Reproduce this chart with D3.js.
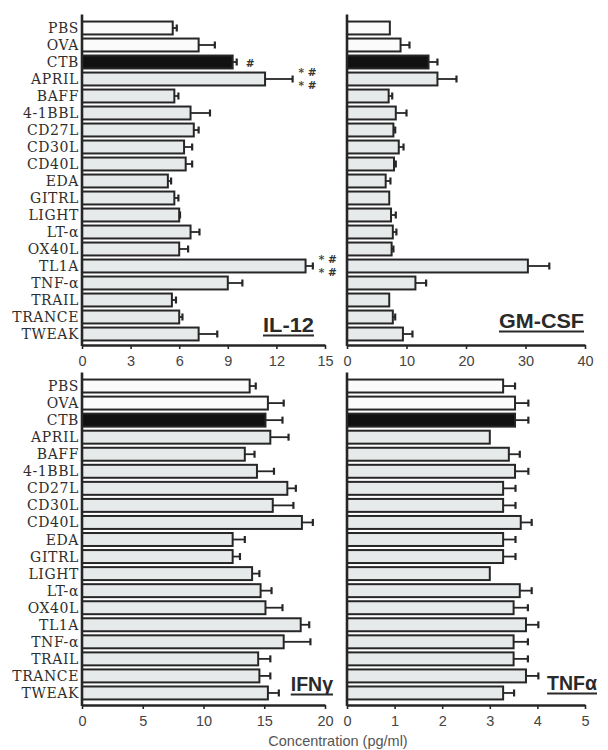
<!DOCTYPE html>
<html>
<head>
<meta charset="utf-8">
<script src="https://cdn.jsdelivr.net/npm/d3@7/dist/d3.min.js"></script>
<style>
  html, body { margin: 0; padding: 0; background: #fff; }
  svg { display: block; }
</style>
</head>
<body>
<svg id="chart" width="608" height="750"></svg>
<script>
// Stimuli (rows, top to bottom)
const categories = ["PBS", "OVA", "CTB", "APRIL", "BAFF", "4-1BBL", "CD27L", "CD30L", "CD40L",
  "EDA", "GITRL", "LIGHT", "LT-\u03b1", "OX40L", "TL1A", "TNF-\u03b1", "TRAIL", "TRANCE", "TWEAK"];

// IL-12 (pg/ml) mean and SEM
const il12Mean = [5.6, 7.2, 9.3, 11.3, 5.7, 6.7, 6.9, 6.3, 6.4, 5.3, 5.7, 6.0, 6.7, 6.0, 13.8, 9.0, 5.55, 6.0, 7.2];
const il12Err  = [0.25, 1.0, 0.25, 1.7, 0.25, 1.2, 0.3, 0.5, 0.4, 0.2, 0.25, 0.05, 0.55, 0.55, 0.45, 0.9, 0.25, 0.2, 1.15];
// significance marks for IL-12 (one entry per line)
const il12Marks = [[], [], ["#"], ["* #", "* #"], [], [], [], [], [], [], [], [], [], [], ["* #", "* #"], [], [], [], []];

// GM-CSF (pg/ml)
const gmcsfMean = [7.2, 9.0, 13.7, 15.2, 7.0, 8.2, 7.8, 8.7, 7.9, 6.5, 7.1, 7.4, 7.7, 7.5, 30.4, 11.5, 7.1, 7.7, 9.4];
const gmcsfErr  = [0, 1.5, 1.5, 3.2, 0.6, 1.8, 0.3, 0.8, 0.3, 0.8, 0, 0.8, 0.6, 0.3, 3.6, 1.8, 0, 0.4, 1.6];

// IFN-gamma (pg/ml)
const ifngMean = [13.8, 15.3, 15.1, 15.5, 13.4, 14.4, 16.9, 15.7, 18.1, 12.4, 12.4, 14.0, 14.7, 15.1, 18.0, 16.6, 14.5, 14.6, 15.3];
const ifngErr  = [0.5, 1.3, 1.4, 1.5, 0.8, 1.4, 0.7, 1.7, 0.9, 1.0, 0.6, 0.6, 0.9, 1.4, 0.7, 2.2, 1.0, 0.9, 0.9];

// TNF-alpha (pg/ml)
const tnfaMean = [3.28, 3.53, 3.53, 3.0, 3.4, 3.53, 3.28, 3.28, 3.65, 3.28, 3.28, 3.0, 3.63, 3.5, 3.76, 3.5, 3.5, 3.76, 3.28];
const tnfaErr  = [0.25, 0.28, 0.28, 0, 0.23, 0.28, 0.26, 0.26, 0.23, 0.26, 0.26, 0, 0.25, 0.3, 0.26, 0.3, 0.3, 0.26, 0.23];

// Axis ticks per panel
const il12Ticks  = [0, 3, 6, 9, 12, 15];
const gmcsfTicks = [0, 10, 20, 30, 40];
const ifngTicks  = [0, 5, 10, 15, 20];
const tnfaTicks  = [0, 1, 2, 3, 4, 5];

const panelTitles = ["IL-12", "GM-CSF", "IFN\u03b3", "TNF\u03b1"];
const axisTitle = "Concentration (pg/ml)";

const svg = d3.select("#chart");
const ink = "#262626";
const fillFor = i => categories[i] === "CTB" ? "#111" : (i < 2 ? "#fbfbfb" : "#e7eaeb");

function panel(opt) {
  const g = svg.append("g");
  const x = d3.scaleLinear().domain(opt.domain).range([opt.x0, opt.x1]);
  const y = d3.scaleBand().domain(categories).range([opt.yTop, opt.yBot])
    .paddingInner(0.24).paddingOuter(0.12);

  // bars
  g.selectAll("rect.bar").data(opt.mean).join("rect")
    .attr("class", "bar")
    .attr("x", x(0))
    .attr("y", (d, i) => y(categories[i]))
    .attr("width", d => x(d) - x(0))
    .attr("height", y.bandwidth())
    .attr("fill", (d, i) => fillFor(i))
    .attr("stroke", ink)
    .attr("stroke-width", 2);

  // error bars (mean to mean + SEM, with end cap)
  opt.mean.forEach((m, i) => {
    const e = opt.err[i];
    if (e <= 0.02) return;
    const cy = y(categories[i]) + y.bandwidth() / 2;
    g.append("line").attr("x1", x(m)).attr("x2", x(m + e)).attr("y1", cy).attr("y2", cy)
      .attr("stroke", ink).attr("stroke-width", 1.8);
    g.append("line").attr("x1", x(m + e)).attr("x2", x(m + e)).attr("y1", cy - 3.5).attr("y2", cy + 3.5)
      .attr("stroke", ink).attr("stroke-width", 2.2);
  });

  // significance marks
  if (opt.marks) {
    opt.marks.forEach((lines, i) => {
      if (!lines.length) return;
      const cy = y(categories[i]) + y.bandwidth() / 2;
      const xe = x(opt.mean[i] + opt.err[i]) + (lines.length > 1 ? 6 : 9);
      lines.forEach((t, k) => {
        const off = lines.length > 1 ? (k === 0 ? -3 : 10) : 4.5;
        g.append("text").attr("x", xe).attr("y", cy + off)
          .attr("font-family", "DejaVu Serif").attr("font-size", 10.5).attr("font-style", "italic")
          .attr("font-weight", "bold")
          .attr("fill", "#333").text(t);
      });
    });
  }

  // x axis
  const ax = d3.axisBottom(x).tickValues(opt.ticks).tickFormat(d3.format("d"))
    .tickSize(4).tickPadding(7).tickSizeOuter(0);
  const axg = g.append("g").attr("transform", `translate(0,${opt.axisY})`).call(ax);
  axg.select(".domain").attr("stroke", ink).attr("stroke-width", 2.4);
  axg.selectAll(".tick line").attr("stroke", ink).attr("stroke-width", 1.6);
  axg.selectAll(".tick text").attr("font-family", "Liberation Sans, Arial, sans-serif")
    .attr("font-size", 14.5).attr("fill", "#444");

  // y axis line (no ticks)
  g.append("line").attr("x1", x(0)).attr("x2", x(0)).attr("y1", opt.yTop - 5).attr("y2", opt.axisY + 1)
    .attr("stroke", ink).attr("stroke-width", 2.6);

  // category labels on left panels
  if (opt.labels) {
    g.selectAll("text.cat").data(categories).join("text")
      .attr("class", "cat")
      .attr("x", x(0) - 3)
      .attr("y", d => y(d) + y.bandwidth() / 2)
      .attr("dy", "0.36em")
      .attr("text-anchor", "end")
      .attr("font-family", "DejaVu Serif, serif")
      .attr("font-size", 14)
      .attr("letter-spacing", 0.6)
      .attr("fill", "#2e2e2e")
      .text(d => d);
  }

  // panel title with a drawn underline
  const t = g.append("text").attr("x", opt.titleX).attr("y", opt.titleY)
    .attr("text-anchor", "end")
    .attr("font-family", "Liberation Sans, Arial, sans-serif")
    .attr("font-weight", "bold").attr("font-size", 19.5)
    .attr("fill", "#2a2a2a")
    .text(opt.title);
  if (opt.titleWidth) t.attr("textLength", opt.titleWidth).attr("lengthAdjust", "spacingAndGlyphs");
  const w = opt.titleWidth || t.node().getComputedTextLength();
  g.append("line").attr("x1", opt.titleX - w).attr("x2", opt.titleX)
    .attr("y1", opt.titleY + 3.5).attr("y2", opt.titleY + 3.5)
    .attr("stroke", "#2a2a2a").attr("stroke-width", 2);
}

panel({ domain: [0, 15], ticks: il12Ticks, x0: 82, x1: 325, yTop: 19.5, yBot: 342.5, axisY: 345,
  mean: il12Mean, err: il12Err, marks: il12Marks, labels: true, title: panelTitles[0],
  titleX: 314, titleY: 332, titleWidth: 51 });
panel({ domain: [0, 40], ticks: gmcsfTicks, x0: 347, x1: 585, yTop: 19.5, yBot: 342.5, axisY: 345,
  mean: gmcsfMean, err: gmcsfErr, labels: false, title: panelTitles[1],
  titleX: 584, titleY: 328, titleWidth: 85 });
panel({ domain: [0, 20], ticks: ifngTicks, x0: 82, x1: 325, yTop: 377.5, yBot: 701.5, axisY: 705,
  mean: ifngMean, err: ifngErr, labels: true, title: panelTitles[2], titleX: 333, titleY: 691 });
panel({ domain: [0, 5], ticks: tnfaTicks, x0: 347, x1: 585, yTop: 377.5, yBot: 701.5, axisY: 705,
  mean: tnfaMean, err: tnfaErr, labels: false, title: panelTitles[3], titleX: 597, titleY: 690 });

svg.append("text").attr("x", 338).attr("y", 746).attr("text-anchor", "middle")
  .attr("font-family", "Liberation Sans, Arial, sans-serif").attr("font-size", 14.5)
  .attr("fill", "#555").text(axisTitle);
</script>
</body>
</html>
